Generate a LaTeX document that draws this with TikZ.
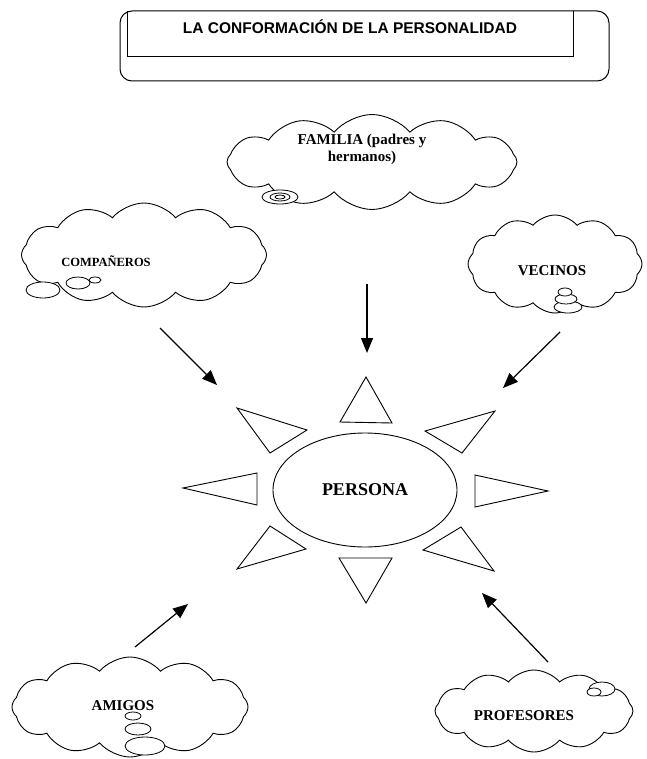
\documentclass[tikz,border=0pt]{standalone}
\usepackage{fontspec}
\setmainfont{Liberation Serif}
\newfontfamily\titlefont{Liberation Sans}
\usetikzlibrary{shapes.symbols,shapes.geometric,arrows.meta}

\tikzset{
  nube/.style={cloud,draw,cloud puffs=12,cloud puff arc=100,cloud ignores aspect,inner sep=0pt,line width=0.9pt},
  etiq/.style={font=\bfseries\fontsize{15}{17}\selectfont,align=center},
  rayo/.style={draw,line width=0.9pt},
  burbuja/.style={draw,fill=white,line width=0.8pt},
  flecha/.style={line width=1.2pt,-{Triangle[length=15pt,width=12pt]}}
}

\begin{document}
\begin{tikzpicture}[x=1pt,y=-1pt]
\useasboundingbox (0,0) rectangle (646,759);

% Title
\draw[line width=1pt,rounded corners=12pt] (120,11) rectangle (609,81);
\draw[line width=1pt] (127,11) -- (127,57) -- (573,57) -- (573,11);
\node[font=\titlefont\bfseries\fontsize{15.5}{18}\selectfont] (titulo) at (350,27) {LA CONFORMACIÓN DE LA PERSONALIDAD};

% Clouds
\node[nube,minimum width=290,minimum height=95] (nfam) at (372,162) {};
\node[nube,minimum width=245,minimum height=104] (ncom) at (144,255) {};
\node[nube,minimum width=174,minimum height=98] (nvec) at (555,264) {};
\node[nube,minimum width=236,minimum height=100] (nami) at (130,707) {};
\node[nube,minimum width=198,minimum height=82] (npro) at (534,711) {};

% Bubbles
\draw[burbuja] (280,197) ellipse [x radius=18,y radius=7];
\draw[line width=0.8pt] (280,197) ellipse [x radius=10,y radius=4];
\draw[line width=0.8pt] (280,197) ellipse [x radius=5,y radius=2];
\draw[burbuja] (43,290) ellipse [x radius=17,y radius=8];
\draw[burbuja] (78,283) ellipse [x radius=12,y radius=6];
\draw[burbuja] (95,280) ellipse [x radius=6,y radius=3];
\draw[burbuja] (568,307) ellipse [x radius=14,y radius=6];
\draw[burbuja] (566,299) ellipse [x radius=11,y radius=5];
\draw[burbuja] (565,292) ellipse [x radius=7,y radius=4];
\draw[burbuja] (133,716) ellipse [x radius=8,y radius=4];
\draw[burbuja] (138,729) ellipse [x radius=13,y radius=6];
\draw[burbuja] (145,746) ellipse [x radius=20,y radius=9];
\draw[burbuja] (602,689) ellipse [x radius=13,y radius=7];
\draw[burbuja] (594,692) ellipse [x radius=7,y radius=4];

% Labels
\node[etiq] (fam) at (362,149) {FAMILIA (padres y\\hermanos)};
\node[etiq,font=\bfseries\fontsize{12.5}{14}\selectfont] (com) at (106,261) {COMPAÑEROS};
\node[etiq] (vec) at (552,271) {VECINOS};
\node[etiq] (ami) at (123,706) {AMIGOS};
\node[etiq] (pro) at (524,716) {PROFESORES};

% Sun
\node[ellipse,draw,line width=0.9pt,minimum width=184,minimum height=114,inner sep=0pt,
  font=\bfseries\fontsize{18}{20}\selectfont] (persona) at (365,490) {PERSONA};
\draw[rayo] (340,422) -- (366,377) -- (392,423) -- cycle;
\draw[rayo] (339,558) -- (392,558) -- (366,603) -- cycle;
\draw[rayo] (183,488) -- (257,473) -- (257,505) -- cycle;
\draw[rayo] (475,475) -- (475,507) -- (548,491) -- cycle;
\draw[rayo] (237,408) -- (307,430) -- (270,453) -- cycle;
\draw[rayo] (495,411) -- (425,431) -- (462,453) -- cycle;
\draw[rayo] (270,526) -- (306,549) -- (237,569) -- cycle;
\draw[rayo] (461,527) -- (423,550) -- (494,571) -- cycle;

% Arrows
\coordinate (cfam) at (367,284);
\coordinate (pfam) at (367,353);
\coordinate (ccom) at (160,328);
\coordinate (pcom) at (217,385);
\coordinate (cvec) at (560,332);
\coordinate (pvec) at (503,388);
\coordinate (cami) at (135,647);
\coordinate (pami) at (188,604);
\coordinate (cpro) at (548,662);
\coordinate (ppro) at (482,593);
\draw[flecha] (cfam) -- (pfam);
\draw[flecha] (ccom) -- (pcom);
\draw[flecha] (cvec) -- (pvec);
\draw[flecha] (cami) -- (pami);
\draw[flecha] (cpro) -- (ppro);
\end{tikzpicture}
\end{document}
